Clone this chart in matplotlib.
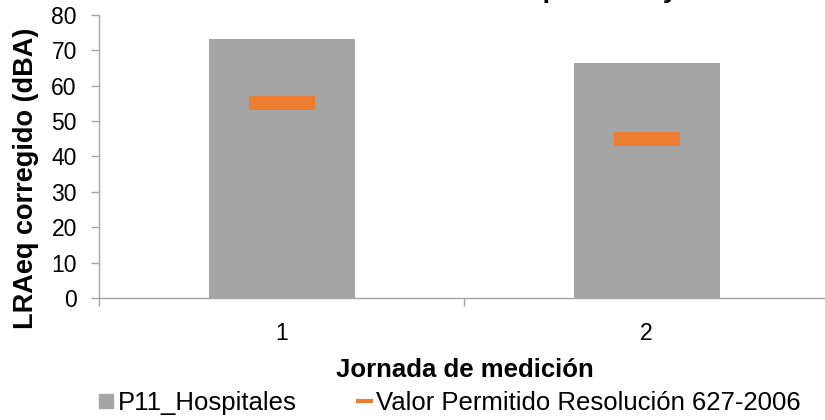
import matplotlib
matplotlib.use("Agg")
import matplotlib.pyplot as plt
from matplotlib.lines import Line2D

plt.rcParams['font.family'] = ['Liberation Sans', 'DejaVu Sans']

# datos por jornada
jornadas = ["1", "2"]
lraeq = [73.1, 66.5]          # P11_Hospitales
permitido = [55, 45]          # Valor Permitido Resolución 627-2006
yticks = [0, 10, 20, 30, 40, 50, 60, 70, 80]

gris = '#A5A5A5'
naranja = '#ED7D31'
eje = '#A6A6A6'

fig = plt.figure(figsize=(8.25, 4.2), dpi=100)
ax = fig.add_axes([99 / 825, 122 / 420, 730 / 825, 283 / 420])

x = [1, 2]
ax.bar(x, lraeq, width=0.40, color=gris, zorder=2)
ax.plot(x, permitido, ls='none', marker='_', ms=47, mew=10, color=naranja, zorder=3)

ax.set_xlim(0.5, 2.5)
ax.set_ylim(0, 80)
ax.set_yticks(yticks)
ax.set_xticks(x)
ax.set_xticklabels(jornadas)
ax.set_xticks([0.5, 1.5, 2.5], minor=True)

for s in ['top', 'right']:
    ax.spines[s].set_visible(False)
for s in ['left', 'bottom']:
    ax.spines[s].set_color(eje)
    ax.spines[s].set_linewidth(1.0)

ax.tick_params(axis='y', direction='out', length=6, width=1, color=eje, pad=10, labelsize=16.5)
ax.tick_params(axis='x', which='major', length=0, pad=17, labelsize=16.5)
ax.tick_params(axis='x', which='minor', direction='out', length=6, width=1, color=eje)

fig.text(26 / 825, 1 - 178 / 420, "LRAeq corregido (dBA)", rotation=90,
         ha='center', va='center', fontsize=19.5, fontweight='bold')
fig.text(465 / 825, 1 - 377 / 420, "Jornada de medición",
         ha='center', va='baseline', fontsize=18.5, fontweight='bold')

# título (queda por encima del borde superior)
fig.text(352 / 825, 1 + 2 / 420, "Nivel de Ruido por Zona y Jornada",
         ha='left', va='baseline', fontsize=19, fontweight='bold')

handles = [
    Line2D([], [], ls='none', marker='s', ms=9.4, color=gris),
    Line2D([], [], color=naranja, lw=3, solid_capstyle='butt'),
]
fig.legend(handles, ["P11_Hospitales", "Valor Permitido Resolución 627-2006"],
           loc='center left', bbox_to_anchor=(98 / 825, 1 - 403 / 420), ncol=2,
           frameon=False, fontsize=18.5, handlelength=0.66, handletextpad=0.12,
           columnspacing=2.3, borderpad=0, borderaxespad=0)

fig.savefig("out.png", dpi=100)
